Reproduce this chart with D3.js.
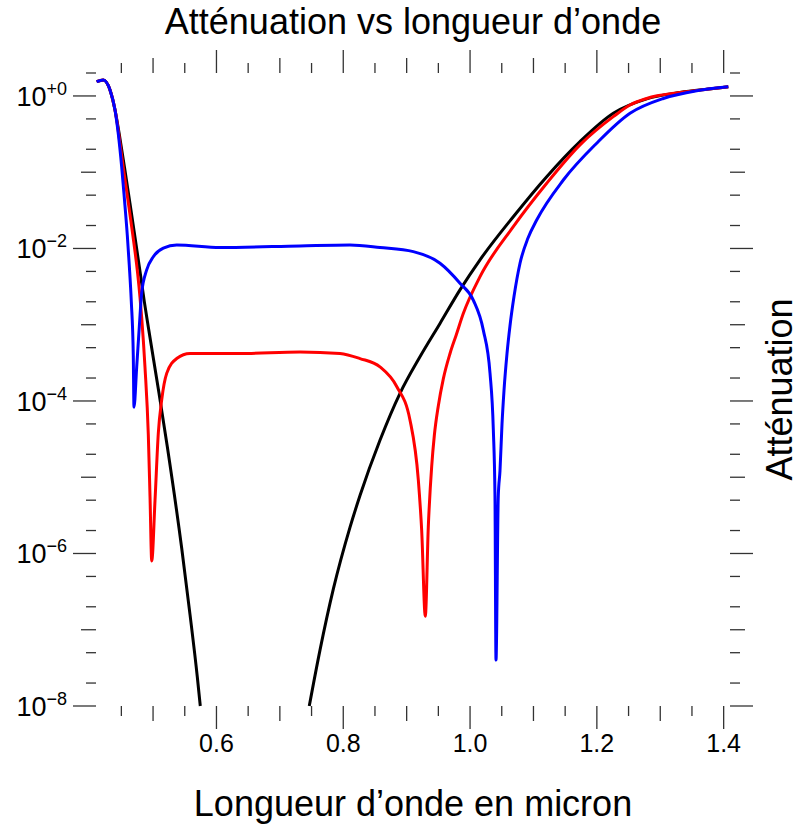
<!DOCTYPE html>
<html>
<head>
<meta charset="utf-8">
<script src="https://cdn.jsdelivr.net/npm/d3@7"></script>
<style>
  html, body { margin: 0; padding: 0; background: #fff; }
  svg { display: block; font-family: "Liberation Sans", Arial, Helvetica, sans-serif; }
</style>
</head>
<body>
<div id="chart"></div>
<script>
// ---- Data ----
const titleText = "Atténuation vs longueur d’onde";
const xLabelText = "Longueur d’onde en micron";
const yLabelText = "Atténuation";

const xTickLabels = [0.6, 0.8, 1.0, 1.2, 1.4];
const yTickExponents = [0, -2, -4, -6, -8];

// black: falling branch
const blackLambda = [0.411, 0.4215, 0.4321, 0.440, 0.4479, 0.4557, 0.4636, 0.4715, 0.4805, 0.4862, 0.4925, 0.5094, 0.5225, 0.5452, 0.5583, 0.5698, 0.5745];
const blackAtt    = [1.54, 1.62, 1.20, 0.655, 0.2735, 0.1057, 0.0389, 0.01406, 4.32e-3, 2.01e-3, 9.33e-4, 1.26e-4, 2.51e-5, 1.17e-6, 1.58e-7, 2.4e-8, 1.0e-8];

// black: rising branch
const blackLambda2 = [0.7464, 0.7633, 0.7843, 0.8106, 0.8264, 0.8579, 0.8895, 0.921, 0.9526, 0.9841, 1.0157, 1.0682, 1.1209, 1.1734, 1.2259, 1.2786, 1.3311, 1.3837, 1.4073];
const blackAtt2    = [1.0e-8, 5.4e-8, 3.4e-7, 2.2e-6, 5.75e-6, 3.05e-5, 1.26e-4, 3.8e-4, 1.04e-3, 2.86e-3, 7.1e-3, 0.0261, 0.0875, 0.252, 0.593, 0.914, 1.11, 1.25, 1.32];

const redLambda = [0.411, 0.4215, 0.4321, 0.440, 0.4531, 0.461, 0.4679, 0.4758, 0.4794, 0.4821, 0.4873, 0.4925, 0.4952, 0.4979, 0.5031, 0.5083, 0.5136, 0.5215, 0.5373, 0.5583, 0.6371, 0.7318, 0.7949, 0.8264, 0.8579, 0.8843, 0.9053, 0.9184, 0.9237, 0.9294, 0.9341, 0.9395, 0.9436, 0.9499, 0.9578, 0.9684, 0.9783, 0.9893, 1.0157, 1.0682, 1.1209, 1.1734, 1.2259, 1.2523, 1.2786, 1.3311, 1.3837, 1.4073];
const redAtt    = [1.54, 1.62, 1.20, 0.655, 0.1138, 0.0398, 0.01535, 4.62e-3, 2.29e-3, 1.23e-3, 2.75e-4, 3.63e-5, 5.6e-6, 8.0e-7, 5e-6, 3.8e-5, 1.03e-4, 2.3e-4, 3.6e-4, 4.2e-4, 4.2e-4, 4.4e-4, 4.2e-4, 3.6e-4, 2.8e-4, 1.55e-4, 5.6e-5, 9.2e-6, 2.0e-6, 1.5e-7, 2.2e-6, 1.4e-5, 3.5e-5, 8.6e-5, 1.95e-4, 4.2e-4, 7.4e-4, 1.4e-3, 4.27e-3, 0.0193, 0.0716, 0.228, 0.535, 0.762, 0.927, 1.11, 1.25, 1.32];

const blueLambda = [0.411, 0.4215, 0.4321, 0.440, 0.4452, 0.4505, 0.4546, 0.4594, 0.4625, 0.4657, 0.4688, 0.4699, 0.4742, 0.4783, 0.482, 0.4898, 0.5004, 0.5162, 0.5373, 0.6056, 0.7318, 0.8106, 0.8579, 0.9105, 0.9526, 0.9841, 1.0051, 1.0209, 1.0315, 1.0367, 1.0393, 1.0409, 1.0445, 1.0472, 1.0504, 1.0535, 1.0583, 1.063, 1.0693, 1.0788, 1.0914, 1.1051, 1.1471, 1.1997, 1.2523, 1.3048, 1.3575, 1.4073];
const blueAtt    = [1.54, 1.62, 1.20, 0.655, 0.316, 0.1175, 0.0468, 0.0148, 6.0e-3, 2.0e-3, 3.98e-4, 8.3e-5, 2.8e-4, 9.4e-4, 2.6e-3, 5.2e-3, 7.8e-3, 0.0101, 0.0111, 0.0103, 0.0108, 0.0111, 0.0103, 9.1e-3, 6.4e-3, 3.5e-3, 2.1e-3, 8.5e-4, 2.3e-4, 4.2e-5, 5.6e-6, 4e-8, 5.6e-6, 1.21e-5, 5.0e-5, 1.36e-4, 4.2e-4, 9.7e-4, 2.34e-3, 6.4e-3, 0.0137, 0.0236, 0.079, 0.24, 0.593, 0.927, 1.17, 1.32];

const seriesList = [
  { name: "black-a", lambda: blackLambda,  att: blackAtt,  color: "#000000" },
  { name: "black-b", lambda: blackLambda2, att: blackAtt2, color: "#000000" },
  { name: "red",     lambda: redLambda,    att: redAtt,    color: "#ff0000" },
  { name: "blue",    lambda: blueLambda,   att: blueAtt,   color: "#0000ff" }
];

// ---- Layout ----
const W = 801, H = 832;
const plot = { left: 96, right: 730, top: 73, bottom: 706 };

const svg = d3.select("#chart").append("svg")
  .attr("width", W).attr("height", H);

const x = d3.scaleLinear().domain([0.41, 1.41]).range([plot.left, plot.right]);
const y = d3.scaleLog().domain([1e-8, 2]).range([plot.bottom, plot.top]);

// ---- Ticks ----
const xTickVals = d3.range(9, 29).map(i => +(i * 0.05).toFixed(2)); // 0.45 .. 1.40
function xTickLen(v) {
  const k = Math.round(v * 100);
  if (k % 20 === 0) return 23;
  if (k % 10 === 0) return 15;
  return 10;
}
const yTickVals = [];
for (let e = 0; e >= -8; e--) {
  yTickVals.push({ v: Math.pow(10, e), len: (e % 2 === 0) ? 23 : 15 });
  if (e > -8) {
    yTickVals.push({ v: 5 * Math.pow(10, e - 1), len: 10 });
    yTickVals.push({ v: 2 * Math.pow(10, e - 1), len: 10 });
  }
}
yTickVals.push({ v: 2, len: 10 });

const tickG = svg.append("g").attr("stroke", "#333").attr("stroke-width", 1.3);

tickG.selectAll("line.xb").data(xTickVals).join("line")
  .attr("x1", d => x(d)).attr("x2", d => x(d))
  .attr("y1", plot.bottom).attr("y2", d => plot.bottom + xTickLen(d));
tickG.selectAll("line.xt").data(xTickVals).join("line")
  .attr("x1", d => x(d)).attr("x2", d => x(d))
  .attr("y1", plot.top).attr("y2", d => plot.top - xTickLen(d));
tickG.selectAll("line.yl").data(yTickVals).join("line")
  .attr("y1", d => y(d.v)).attr("y2", d => y(d.v))
  .attr("x1", plot.left).attr("x2", d => plot.left - d.len);
tickG.selectAll("line.yr").data(yTickVals).join("line")
  .attr("y1", d => y(d.v)).attr("y2", d => y(d.v))
  .attr("x1", plot.right).attr("x2", d => plot.right + d.len);

// x tick labels
svg.append("g").selectAll("text").data(xTickLabels).join("text")
  .attr("x", d => x(d)).attr("y", 752)
  .attr("text-anchor", "middle")
  .attr("font-size", 25)
  .attr("fill", "#000")
  .text(d => d.toFixed(1));

// y tick labels  10^{e}
const yl = svg.append("g").selectAll("text").data(yTickExponents).join("text")
  .attr("x", 67).attr("y", d => y(Math.pow(10, d)) + 10)
  .attr("text-anchor", "end")
  .attr("fill", "#000");
yl.append("tspan").attr("font-size", 27).text("10");
yl.append("tspan").attr("font-size", 18).attr("dy", -11)
  .text(d => (d === 0 ? "+0" : "\u2212" + Math.abs(d)));

// ---- Curves ----
const line = d3.line()
  .x(d => x(d[0]))
  .y(d => y(d[1]))
  .curve(d3.curveMonotoneX);

svg.append("g").selectAll("path").data(seriesList).join("path")
  .attr("d", s => line(s.lambda.map((l, i) => [l, s.att[i]])))
  .attr("fill", "none")
  .attr("stroke", s => s.color)
  .attr("stroke-width", 3)
  .attr("stroke-linejoin", "round")
  .attr("stroke-linecap", "butt");

// ---- Titles ----
svg.append("text")
  .attr("x", (plot.left + plot.right) / 2).attr("y", 34)
  .attr("text-anchor", "middle").attr("font-size", 36).attr("fill", "#000")
  .text(titleText);

svg.append("text")
  .attr("x", (plot.left + plot.right) / 2).attr("y", 816)
  .attr("text-anchor", "middle").attr("font-size", 36).attr("fill", "#000")
  .text(xLabelText);

svg.append("text")
  .attr("transform", "translate(792," + ((plot.top + plot.bottom) / 2) + ") rotate(-90)")
  .attr("text-anchor", "middle").attr("font-size", 36).attr("fill", "#000")
  .text(yLabelText);
</script>
</body>
</html>
